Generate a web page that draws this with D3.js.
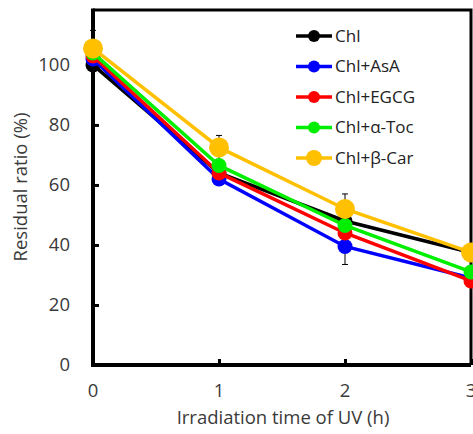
<!DOCTYPE html>
<html>
<head>
<meta charset="utf-8">
<script src="https://cdn.jsdelivr.net/npm/d3@7"></script>
<style>
  body { margin: 0; background: #fff; }
  text { font-family: "Open Sans", sans-serif; }
</style>
</head>
<body>
<div id="chart"></div>
<script>
// data
var times = [0, 1, 2, 3];
var yTicks = [0, 20, 40, 60, 80, 100];
var chl   = [100, 64, 48, 37.5];
var asa   = [102, 62, 39.5, 29];
var egcg  = [103, 64, 44, 28];
var atoc  = [104, 66.5, 46.5, 31];
var bcar  = [105.5, 72.5, 52, 37.5];
// error bars (only a few visible)
var errBcar = [6, 4, 5, 0];
var errAsa  = [0, 0, 6, 0];

var series = [
  { name: "Chl",      vals: chl,  err: null,    color: "#000000", r: 7.5 },
  { name: "Chl+AsA",  vals: asa,  err: errAsa,  color: "#0000ff", r: 7.5 },
  { name: "Chl+EGCG", vals: egcg, err: null,    color: "#ff0000", r: 7.5 },
  { name: "Chl+α-Toc", vals: atoc, err: null,   color: "#00ee00", r: 7.5 },
  { name: "Chl+β-Car", vals: bcar, err: errBcar, color: "#ffc000", r: 10 }
];

var W = 473, H = 434;
var svg = d3.select("#chart").append("svg").attr("width", W).attr("height", H);

var x = d3.scaleLinear().domain([0, 3]).range([93, 471]);
var y = d3.scaleLinear().domain([0, 118.3]).range([365, 10]);

// frame (top and right)
svg.append("path")
  .attr("d", "M" + x(0) + "," + y(118.3) + "H" + x(3) + "V" + y(0))
  .attr("fill", "none").attr("stroke", "#000").attr("stroke-width", 3);

// y axis with inside ticks
var yAxis = svg.append("g").attr("transform", "translate(" + x(0) + ",0)")
  .call(d3.axisRight(y).tickValues(yTicks).tickSize(6).tickFormat(""));
yAxis.select(".domain").remove();
yAxis.selectAll("line").attr("stroke-width", 3);
svg.append("g").selectAll("text").data(yTicks).enter().append("text")
  .attr("x", 70).attr("y", function(d) { return y(d); }).attr("dy", "0.35em")
  .attr("text-anchor", "end").attr("font-size", 18.5).attr("fill", "#3a3a3a")
  .text(function(d) { return d; });

// x axis with inside ticks
var xAxis = svg.append("g").attr("transform", "translate(0," + y(0) + ")")
  .call(d3.axisTop(x).tickValues(times).tickSize(6).tickFormat(""));
xAxis.select(".domain").remove();
xAxis.selectAll("line").attr("stroke-width", 3);
svg.append("g").selectAll("text").data(times).enter().append("text")
  .attr("x", function(d) { return x(d); }).attr("y", 397)
  .attr("text-anchor", "middle").attr("font-size", 18.5).attr("fill", "#3a3a3a")
  .text(function(d) { return d; });

// axis lines
svg.append("line").attr("x1", x(0)).attr("x2", x(0)).attr("y1", y(118.3) - 1.5).attr("y2", y(0) + 2)
  .attr("stroke", "#000").attr("stroke-width", 4);
svg.append("line").attr("x1", x(0) - 2).attr("x2", x(3)).attr("y1", y(0)).attr("y2", y(0))
  .attr("stroke", "#000").attr("stroke-width", 4);

// axis titles
svg.append("text").attr("x", 283).attr("y", 424).attr("text-anchor", "middle")
  .attr("font-size", 18.5).attr("fill", "#3a3a3a").text("Irradiation time of UV (h)");
svg.append("text").attr("transform", "translate(27,187) rotate(-90)").attr("text-anchor", "middle")
  .attr("font-size", 18.5).attr("fill", "#3a3a3a").text("Residual ratio (%)");

var line = d3.line().x(function(d, i) { return x(times[i]); }).y(function(d) { return y(d); });

// error bars
series.forEach(function(s) {
  if (!s.err) return;
  var g = svg.append("g");
  s.vals.forEach(function(v, i) {
    var e = s.err[i];
    if (!e) return;
    var cx = x(times[i]);
    g.append("path")
      .attr("d", "M" + (cx - 3) + "," + y(v + e) + "H" + (cx + 3) + "M" + cx + "," + y(v + e) + "V" + y(v - e) +
                 "M" + (cx - 3) + "," + y(v - e) + "H" + (cx + 3))
      .attr("stroke", "#000").attr("stroke-width", 1).attr("fill", "none");
  });
});

// lines and markers
series.forEach(function(s) {
  svg.append("path").datum(s.vals).attr("d", line)
    .attr("fill", "none").attr("stroke", s.color).attr("stroke-width", 3.5);
  svg.append("g").selectAll("circle").data(s.vals).enter().append("circle")
    .attr("cx", function(d, i) { return x(times[i]); })
    .attr("cy", function(d) { return y(d); })
    .attr("r", s.r).attr("fill", s.color);
});

// legend
var leg = svg.append("g").selectAll("g").data(series).enter().append("g")
  .attr("transform", function(d, i) { return "translate(296," + (36 + i * 30.5) + ")"; });
leg.append("line").attr("x1", 0).attr("x2", 36).attr("stroke", function(d) { return d.color; })
  .attr("stroke-width", 3.5);
leg.append("circle").attr("cx", 18).attr("r", function(d) { return d.r === 10 ? 8 : 6; })
  .attr("fill", function(d) { return d.color; });
leg.append("text").attr("x", 39).attr("dy", "0.35em").attr("font-size", 17).attr("fill", "#222")
  .text(function(d) { return d.name; });
</script>
</body>
</html>
